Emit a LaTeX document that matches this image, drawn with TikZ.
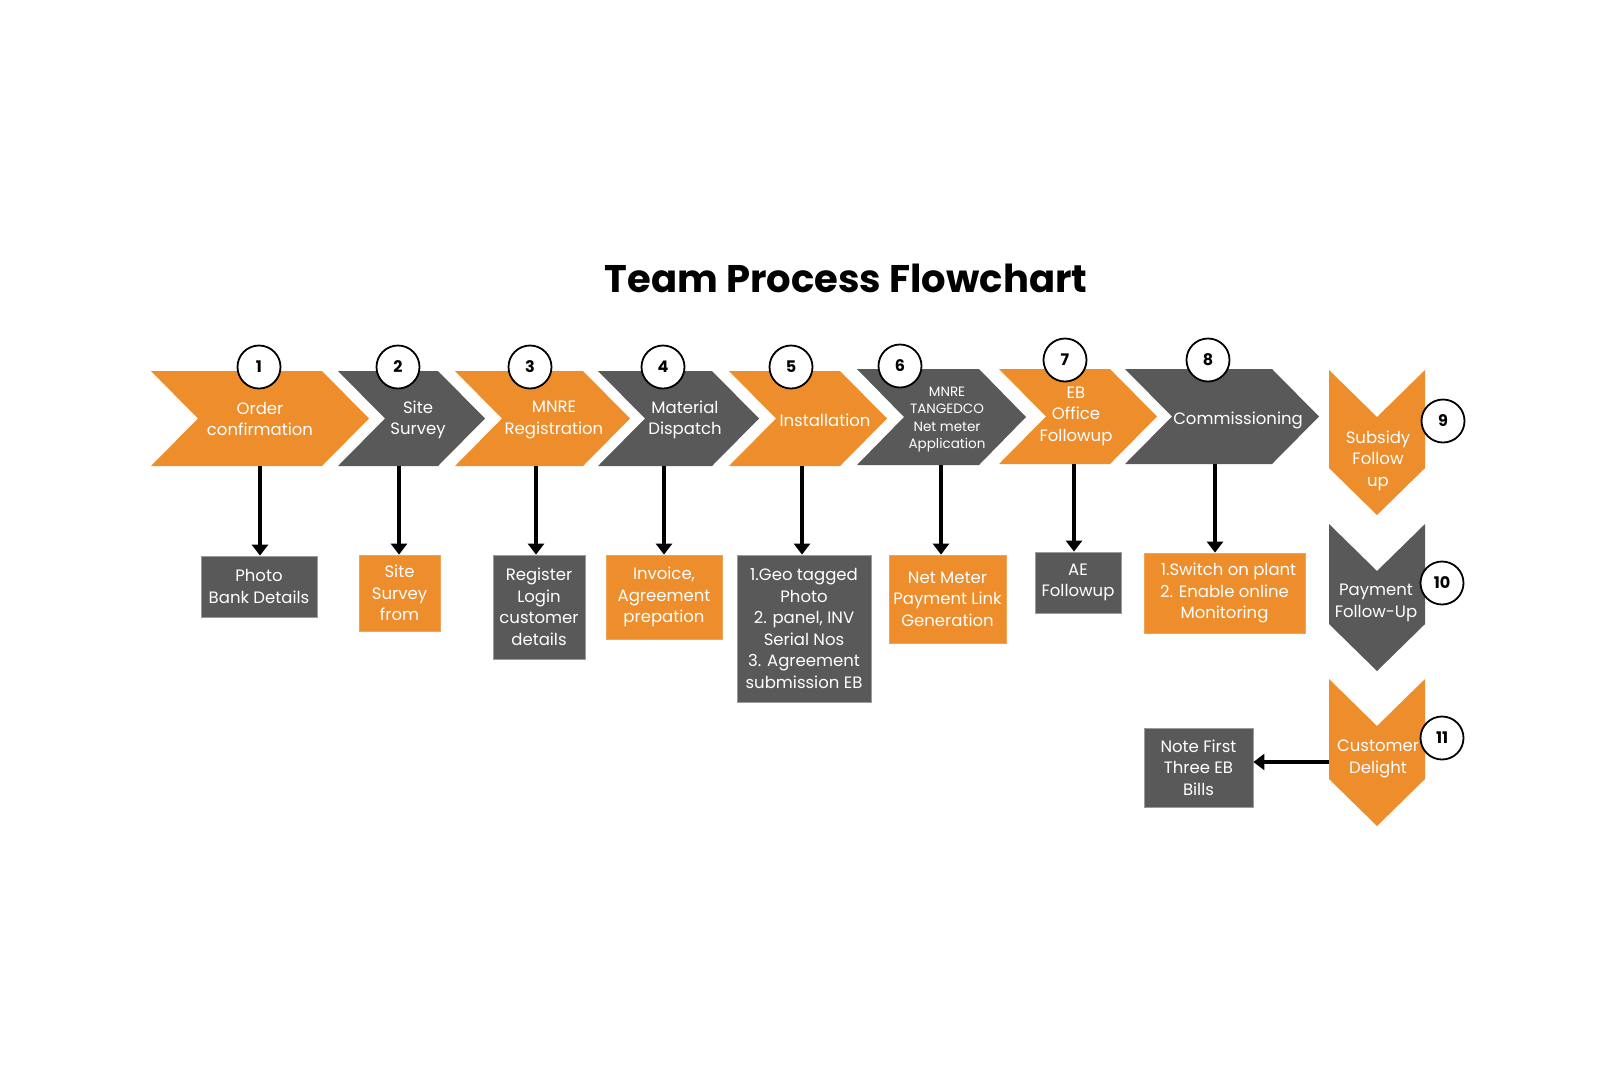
\documentclass[tikz,border=0pt]{standalone}
\usepackage{fontspec}
\setmainfont{Poppins}
\usetikzlibrary{arrows.meta}
\definecolor{org}{HTML}{EE8D2C}
\definecolor{gry}{HTML}{595959}
\tikzset{
  ctext/.style={text=white, align=center, inner sep=0pt, font=\fontsize{16.5}{21.5}\selectfont},
  stext/.style={text=white, align=center, inner sep=0pt, font=\fontsize{13.5}{17.5}\selectfont},
  gbox/.style={fill=gry, draw=gry!60, line width=0.8pt, text=white, align=center, inner sep=0pt, font=\fontsize{16.5}{21.5}\selectfont},
  obox/.style={fill=org, draw=org!80, line width=0.8pt, text=white, align=center, inner sep=0pt, font=\fontsize{16.5}{21.5}\selectfont},
  num/.style={circle, draw=black, line width=1.8pt, fill=white, minimum size=43pt, inner sep=0pt, font=\bfseries\fontsize{16}{18}\selectfont},
  arr/.style={line width=3.5pt, -{Triangle[width=16pt,length=11pt]}}
}
\newcommand\hchev[5]{% L R top bot color
  \fill[#5] (#1,#3) -- (#2,#3) -- ({#2+47},{(#3+#4)/2}) -- (#2,#4) -- (#1,#4) -- ({#1+47},{(#3+#4)/2}) -- cycle;}
\newcommand\vchev[3]{% top shoulder color ; x from 1329 to 1425
  \fill[#3] (1329,#1) -- (1377,{#1+47}) -- (1425,#1) -- (1425,#2) -- (1377,{#2+47}) -- (1329,#2) -- cycle;}
\begin{document}
\begin{tikzpicture}[x=1pt,y=-1pt]
\useasboundingbox (0,0) rectangle (1624,1080);
\fill[white] (0,0) rectangle (1624,1080);
\node[anchor=base, font=\bfseries\fontsize{38.5}{46}\selectfont] (title) at (846,292) {Team Process Flowchart};
% horizontal chevrons
\hchev{151}{322}{371}{466}{org}
\hchev{338}{438}{371}{466}{gry}
\hchev{455}{583}{371}{466}{org}
\hchev{598}{712}{371}{466}{gry}
\hchev{729}{840}{371}{466}{org}
\hchev{857}{979}{369}{465}{gry}
\hchev{999}{1110}{369}{464}{org}
\hchev{1125}{1272}{369}{464}{gry}
% vertical chevrons
\vchev{370}{468}{org}
\vchev{524}{624}{gry}
\vchev{679}{779}{org}
% chevron texts
\node[ctext] (t1) at (260,419) {Order\\confirmation};
\node[ctext] (t2) at (418,420) {Site\\Survey};
\node[ctext] (t3) at (554,420) {MNRE\\Registration};
\node[ctext] (t4) at (685,420) {Material\\Dispatch};
\node[ctext] (t5) at (825,420) {Installation};
\node[stext] (t6) at (947,419.5) {MNRE\\TANGEDCO\\Net meter\\Application};
\node[ctext] (t7) at (1076,416) {EB\\Office\\Followup};
\node[ctext] (t8) at (1238,420.5) {Commissioning};
\node[ctext] (t9) at (1378,460.5) {Subsidy\\Follow\\up};
\node[ctext] (t10) at (1376,603) {Payment\\Follow-Up};
\node[ctext] (t11) at (1378,759) {Customer\\Delight};
% numbers
\node[num] (n1) at (259,367) {1};
\node[num] (n2) at (398,367) {2};
\node[num] (n3) at (530,367) {3};
\node[num] (n4) at (663,367) {4};
\node[num] (n5) at (791,367) {5};
\node[num] (n6) at (900,366) {6};
\node[num] (n7) at (1065,360) {7};
\node[num] (n8) at (1208,360) {8};
\node[num] (n9) at (1443,421) {9};
\node[num] (n10) at (1442,583) {10};
\node[num] (n11) at (1442,738) {11};
% boxes
\node[gbox, minimum width=116pt, minimum height=61pt] (b1) at (259,586.5) {Photo\\Bank Details};
\node[obox, minimum width=81pt, minimum height=76pt] (b2) at (399.5,593) {Site\\Survey\\from};
\node[gbox, minimum width=92pt, minimum height=104pt] (b3) at (539,607) {Register\\Login\\customer\\details};
\node[obox, minimum width=116pt, minimum height=84pt] (b4) at (664,597) {Invoice,\\Agreement\\prepation};
\node[gbox, minimum width=134pt, minimum height=147pt] (b5) at (804,628.5) {1.Geo tagged\\Photo\\2. panel, INV\\Serial Nos\\3. Agreement\\submission EB};
\node[obox, minimum width=117pt, minimum height=88pt] (b6) at (947.5,599) {Net Meter\\Payment Link\\Generation};
\node[gbox, minimum width=86pt, minimum height=61pt] (b7) at (1078,582.5) {AE\\Followup};
\node[obox, minimum width=161pt, minimum height=80pt] (b8) at (1224.5,593) {\hspace*{8pt}1.Switch on plant\\2. Enable online\\Monitoring};
\node[gbox, minimum width=109pt, minimum height=79pt] (b9) at (1198.5,767.5) {Note First\\Three EB\\Bills};
% arrow start points
\coordinate (a1) at (260,466);
\coordinate (a2) at (399,466);
\coordinate (a3) at (536,466);
\coordinate (a4) at (664,466);
\coordinate (a5) at (802,466);
\coordinate (a6) at (941,465);
\coordinate (a7) at (1074,464);
\coordinate (a8) at (1215,464);
\coordinate (a11) at (1329,762);
\draw[arr] (a1) -- (a1 |- b1.north);
\draw[arr] (a2) -- (a2 |- b2.north);
\draw[arr] (a3) -- (a3 |- b3.north);
\draw[arr] (a4) -- (a4 |- b4.north);
\draw[arr] (a5) -- (a5 |- b5.north);
\draw[arr] (a6) -- (a6 |- b6.north);
\draw[arr] (a7) -- (a7 |- b7.north);
\draw[arr] (a8) -- (a8 |- b8.north);
\draw[arr] (a11) -- (a11 -| b9.east);
\end{tikzpicture}
\end{document}
